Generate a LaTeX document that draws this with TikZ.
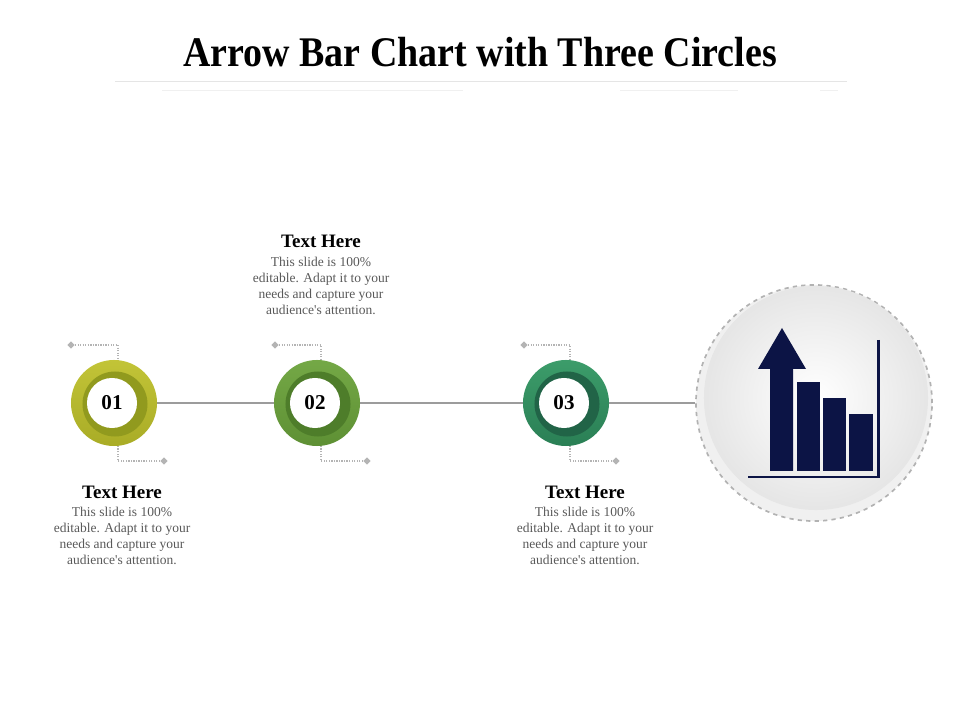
\documentclass[tikz,border=0pt]{standalone}
\usepackage{fontspec}
\setmainfont{Liberation Serif}
\usetikzlibrary{shapes.geometric,backgrounds}

\definecolor{navy}{HTML}{0C1445}
\definecolor{lineGray}{HTML}{9C9C9C}
\definecolor{dotGray}{HTML}{B4B4B4}
\definecolor{bodyGray}{HTML}{595959}
\definecolor{oliveA}{HTML}{C2C437}
\definecolor{oliveB}{HTML}{A9AC26}
\definecolor{oliveDark}{HTML}{919A1E}
\definecolor{leafA}{HTML}{74A846}
\definecolor{leafB}{HTML}{5E9034}
\definecolor{leafDark}{HTML}{4E7D2A}
\definecolor{jadeA}{HTML}{3C9C6A}
\definecolor{jadeB}{HTML}{2A7F55}
\definecolor{jadeDark}{HTML}{216447}

\tikzset{
    outerring/.style={circle, inner sep=0pt, minimum size=2.15cm},
    innerring/.style={circle, inner sep=0pt, minimum size=1.625cm},
    hole/.style={circle, fill=white, inner sep=0pt, minimum size=1.25cm,
        font=\fontsize{15}{15}\selectfont\bfseries},
    mainline/.style={lineGray, line width=1.4pt},
    dotline/.style={dotGray, line width=0.9pt, dash pattern=on 0.9pt off 0.9pt},
    tip/.style={diamond, fill=dotGray, inner sep=0pt, minimum size=0.19cm},
    heading/.style={font=\fontsize{13.5}{14}\selectfont\bfseries},
    body/.style={align=center, text=bodyGray, font=\fontsize{9.6}{11.4}\selectfont},
}

\begin{document}
\begin{tikzpicture}[x=0.025cm, y=-0.025cm]
                \useasboundingbox (0,0) rectangle (960,720);

                % title and rules
                \node (title) at (480,52) {\scalebox{0.9}[1]{\fontsize{30}{30}\selectfont\bfseries Arrow Bar Chart with Three Circles}};
                \draw[black!10, line width=0.6pt] (115,81) -- (847,81);
                \draw[black!6, line width=0.6pt] (162,90) -- (463,90);
                \draw[black!6, line width=0.6pt] (620,90) -- (738,90);
                \draw[black!6, line width=0.6pt] (820,90) -- (838,90);

                % big circle with chart
                \node[circle, draw=black!30, dashed, line width=1.2pt, fill=black!6,
                    inner sep=0pt, minimum size=5.9cm] (big) at (814,403) {};
                \node[circle, inner sep=0pt, minimum size=5.6cm,
                    inner color=white, outer color=black!10] (face) at (816,398) {};
                \fill[navy] (770,471) -- (770,369) -- (758,369) -- (782,328)
                    -- (806,369) -- (793,369) -- (793,471) -- cycle;
                \fill[navy] (797,382) rectangle (820,471);
                \fill[navy] (823,398) rectangle (846,471);
                \fill[navy] (849,414) rectangle (873,471);
                \draw[navy, line width=2.1pt] (748,477) -- (880,477);
                \draw[navy, line width=1.8pt] (878.5,340) -- (878.5,478);

                % numbered circles
                \node[outerring, top color=oliveA, bottom color=oliveB] (c1) at (114,403) {};
                \node[innerring, fill=oliveDark] (r1) at (115,404) {};
                \node[hole] (n1) at (112,403) {01};

                \node[outerring, top color=leafA, bottom color=leafB] (c2) at (317,403) {};
                \node[innerring, fill=leafDark] (r2) at (318,404) {};
                \node[hole] (n2) at (315,403) {02};

                \node[outerring, top color=jadeA, bottom color=jadeB] (c3) at (566,403) {};
                \node[innerring, fill=jadeDark] (r3) at (567,404) {};
                \node[hole] (n3) at (564,403) {03};

                % dotted leaders
                \node[tip] (t1a) at (71,345) {};
                \node[tip] (t1b) at (164,461) {};
                \coordinate (k1a) at (118,345);
                \coordinate (k1b) at (118,461);
                \node[tip] (t2a) at (275,345) {};
                \node[tip] (t2b) at (367,461) {};
                \coordinate (k2a) at (321,345);
                \coordinate (k2b) at (321,461);
                \node[tip] (t3a) at (524,345) {};
                \node[tip] (t3b) at (616,461) {};
                \coordinate (k3a) at (570,345);
                \coordinate (k3b) at (570,461);

                \begin{scope}[on background layer]
                    \draw[mainline] (c1.east) -- (c2.west);
                    \draw[mainline] (c2.east) -- (c3.west);
                    \draw[mainline] (c3.east) -- (big.west);
                    \draw[dotline] (t1a) -- (k1a) -- (k1a |- c1);
                    \draw[dotline] (t1b) -- (k1b) -- (k1b |- c1);
                    \draw[dotline] (t2a) -- (k2a) -- (k2a |- c2);
                    \draw[dotline] (t2b) -- (k2b) -- (k2b |- c2);
                    \draw[dotline] (t3a) -- (k3a) -- (k3a |- c3);
                    \draw[dotline] (t3b) -- (k3b) -- (k3b |- c3);
                \end{scope}

                % texts
                \node[heading] (h1) at (122,492) {Text Here};
                \node[body] (b1) at (122,536) {This slide is 100\%\\editable. Adapt it to your\\needs and capture your\\audience\textquotesingle s attention.};
                \node[heading] (h2) at (321,241) {Text Here};
                \node[body] (b2) at (321,286) {This slide is 100\%\\editable. Adapt it to your\\needs and capture your\\audience\textquotesingle s attention.};
                \node[heading] (h3) at (585,492) {Text Here};
                \node[body] (b3) at (585,536) {This slide is 100\%\\editable. Adapt it to your\\needs and capture your\\audience\textquotesingle s attention.};
\end{tikzpicture}
\end{document}
